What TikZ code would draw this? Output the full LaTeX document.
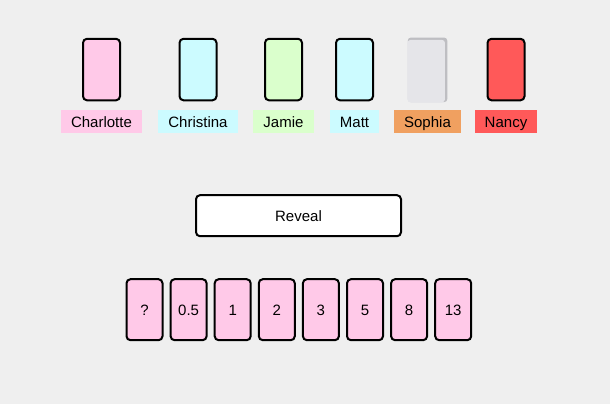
\documentclass[tikz,border=0pt]{standalone}
\usepackage{fontspec}
\setmainfont{Liberation Sans}
\usepackage{tikz}
\usetikzlibrary{positioning}
\definecolor{bgGrey}{RGB}{239,239,239}
\definecolor{cardPink}{RGB}{255,201,232}
\definecolor{cardCyan}{RGB}{204,251,255}
\definecolor{cardGreen}{RGB}{218,255,204}
\definecolor{cardRed}{RGB}{255,89,89}
\definecolor{tagOrange}{RGB}{240,160,96}
\definecolor{blankLight}{RGB}{229,229,233}
\definecolor{blankDark}{RGB}{190,190,194}

\begin{document}
\begin{tikzpicture}[x=1pt,y=-1pt,node distance=8.5pt,font=\fontsize{15}{18}\selectfont,
	card/.style={draw=black,line width=2pt,rounded corners=4pt,minimum width=37pt,minimum height=61.5pt,inner sep=0pt,text height=11pt,text depth=0pt},
	blank/.style={fill=blankDark,rounded corners=3pt,minimum width=39.5pt,minimum height=64.5pt,inner sep=0pt},
	vote/.style={card,fill=cardPink,minimum width=36pt,minimum height=61pt},
	tag/.style={inner xsep=10pt,inner ysep=0pt,minimum height=23pt,text height=11pt,text depth=0pt},
	button/.style={draw=black,line width=2pt,rounded corners=4pt,fill=white,minimum width=205pt,minimum height=41pt,text height=11pt,text depth=0pt}]
	\fill [bgGrey] (0,0) rectangle (610,404);
	\useasboundingbox (0,0) rectangle (610,404);

	% names
	\node [tag, fill=cardPink]		(n1)	at (101.5,121.5)	{Charlotte};
	\node [tag, fill=cardCyan]		(n2)	at (198,121.5)		{Christina};
	\node [tag, fill=cardGreen]		(n3)	at (283.5,121.5)	{Jamie};
	\node [tag, fill=cardCyan]		(n4)	at (354.5,121.5)	{Matt};
	\node [tag, fill=tagOrange]		(n5)	at (427.5,121.5)	{Sophia};
	\node [tag, fill=cardRed]		(n6)	at (506,121.5)		{Nancy};

	% played cards
	\node [card, fill=cardPink]		(c1)	[above=of n1]	{};
	\node [card, fill=cardCyan]		(c2)	[above=of n2]	{};
	\node [card, fill=cardGreen]	(c3)	[above=of n3]	{};
	\node [card, fill=cardCyan]		(c4)	[above=of n4]	{};
	\node [blank]					(c5)	[above=7.5pt of n5]	{};
	\node [card, fill=cardRed]		(c6)	[above=of n6]	{};
	\fill [blankLight, rounded corners=3pt] (c5.south west) rectangle ([xshift=-2.5pt,yshift=-2.5pt]c5.north east);

	\node [button]	(reveal)	at (298.5,215.7)	{Reveal};

	% hand
	\node [vote]	(v1)	at (144.5,309.7)	{?};
	\node [vote]	(v2)	[right=6.1pt of v1]	{0.5};
	\node [vote]	(v3)	[right=6.1pt of v2]	{1};
	\node [vote]	(v4)	[right=6.1pt of v3]	{2};
	\node [vote]	(v5)	[right=6.1pt of v4]	{3};
	\node [vote]	(v6)	[right=6.1pt of v5]	{5};
	\node [vote]	(v7)	[right=6.1pt of v6]	{8};
	\node [vote]	(v8)	[right=6.1pt of v7]	{13};
\end{tikzpicture}
\end{document}
